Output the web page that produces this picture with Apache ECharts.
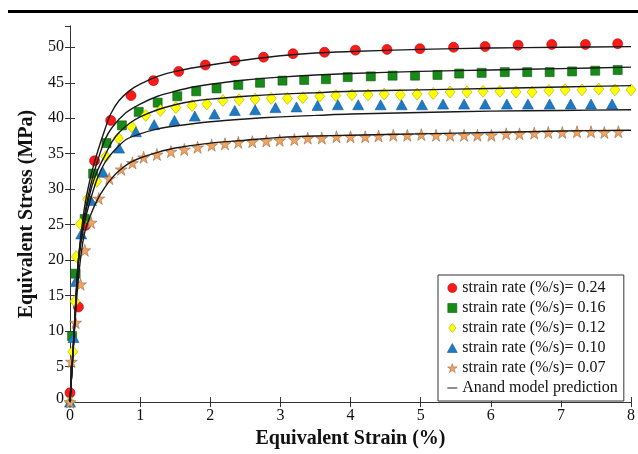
<!DOCTYPE html>
<html><head><meta charset="utf-8">
<script src="https://cdn.jsdelivr.net/npm/echarts@6/dist/echarts.min.js"></script>
<style>html,body{margin:0;padding:0;background:#fff}#c{width:638px;height:454px}</style>
</head><body><div id="c"></div>
<script>
// ---- data (strain %, stress MPa) ----
const seriesNames = ['strain rate (%/s)= 0.24','strain rate (%/s)= 0.16','strain rate (%/s)= 0.12','strain rate (%/s)= 0.10','strain rate (%/s)= 0.07'];
const modelName = 'Anand model prediction';
const xAxisTitle = 'Equivalent Strain (%)';
const yAxisTitle = 'Equivalent Stress (MPa)';

const exp024 = [[0,1.3],[0.12,13.4],[0.22,24.9],[0.35,34.0],[0.58,39.7],[0.87,43.2],[1.19,45.3],[1.55,46.6],[1.93,47.5],[2.35,48.1],[2.76,48.6],[3.18,49.1],[3.63,49.3],[4.07,49.6],[4.52,49.7],[4.99,49.8],[5.47,50.0],[5.92,50.1],[6.39,50.3],[6.87,50.4],[7.35,50.4],[7.81,50.5]];
const exp016 = [[0.03,9.3],[0.08,18.1],[0.21,25.8],[0.33,32.2],[0.52,36.5],[0.74,39.0],[0.98,40.9],[1.25,42.2],[1.53,43.1],[1.80,43.8],[2.09,44.2],[2.40,44.7],[2.71,45.0],[3.03,45.3],[3.34,45.4],[3.65,45.5],[3.96,45.8],[4.29,45.9],[4.60,46.0],[4.92,46.0],[5.24,46.1],[5.55,46.3],[5.87,46.4],[6.20,46.5],[6.52,46.5],[6.84,46.5],[7.16,46.6],[7.49,46.7],[7.81,46.8]];
const exp012 = [[0,0],[0.04,7.1],[0.07,14.2],[0.09,20.5],[0.15,25.1],[0.25,28.6],[0.38,31.1],[0.51,34.6],[0.69,37.2],[0.88,38.8],[1.08,40.4],[1.29,41.1],[1.51,41.5],[1.74,41.8],[1.95,42.0],[2.18,42.5],[2.41,42.6],[2.64,42.7],[2.87,42.8],[3.10,42.8],[3.32,42.9],[3.56,43.1],[3.79,43.2],[4.02,43.3],[4.25,43.3],[4.48,43.4],[4.71,43.3],[4.95,43.4],[5.18,43.5],[5.42,43.7],[5.66,43.7],[5.89,43.8],[6.13,43.8],[6.36,43.7],[6.59,43.7],[6.83,43.9],[7.06,44.0],[7.30,44.0],[7.54,44.1],[7.77,44.0],[8.0,44.0]];
const exp010 = [[0,0],[0.05,9.1],[0.08,17.0],[0.16,23.7],[0.30,28.4],[0.47,32.4],[0.70,35.8],[0.94,38.1],[1.20,39.1],[1.49,39.7],[1.78,40.3],[2.06,40.6],[2.35,41.1],[2.64,41.2],[2.93,41.5],[3.23,41.6],[3.53,41.8],[3.82,41.9],[4.11,41.9],[4.43,41.9],[4.73,41.9],[5.02,41.9],[5.32,42.0],[5.62,42.0],[5.92,42.0],[6.23,42.0],[6.53,42.0],[6.84,42.0],[7.14,42.0],[7.43,42.0],[7.73,42.0]];
const exp007 = [[0,0],[0.02,5.7],[0.08,11.2],[0.15,16.6],[0.21,21.4],[0.30,25.3],[0.41,28.7],[0.56,31.5],[0.73,32.8],[0.89,33.7],[1.05,34.5],[1.24,34.9],[1.44,35.3],[1.63,35.6],[1.82,35.9],[2.02,36.2],[2.21,36.4],[2.40,36.6],[2.60,36.7],[2.80,36.8],[2.99,36.9],[3.20,37.0],[3.39,37.2],[3.59,37.2],[3.80,37.4],[4.00,37.4],[4.21,37.4],[4.40,37.5],[4.61,37.6],[4.81,37.6],[5.01,37.7],[5.22,37.6],[5.42,37.6],[5.62,37.6],[5.81,37.6],[6.01,37.6],[6.22,37.8],[6.41,37.8],[6.62,37.9],[6.82,38.0],[7.02,38.0],[7.23,38.1],[7.43,38.1],[7.62,38.0],[7.82,38.1]];

const model024 = [[0,0],[0.06,10],[0.12,20],[0.2,27],[0.3,32],[0.4,35.5],[0.5,38.5],[0.58,40.6],[0.7,42.5],[0.85,43.9],[1.0,44.8],[1.25,45.9],[1.5,46.6],[2,47.5],[2.5,48.2],[3,48.8],[3.5,49.2],[4,49.4],[5,49.7],[6,49.9],[7,50.0],[8,50.1]];
const model016 = [[0,0],[0.06,10],[0.12,20],[0.2,26],[0.3,30.8],[0.4,34.2],[0.5,37.0],[0.6,38.7],[0.8,40.8],[1.0,42.0],[1.25,43.1],[1.5,43.8],[1.75,44.4],[2,44.8],[2.5,45.4],[3,45.8],[3.5,46.1],[4,46.3],[5,46.6],[6,46.8],[7,47.0],[8,47.2]];
const model012 = [[0,0],[0.06,10],[0.12,20],[0.2,25.5],[0.3,30.0],[0.4,32.8],[0.5,34.8],[0.6,36.7],[0.7,38.0],[0.85,39.3],[1.0,40.2],[1.25,41.2],[1.5,41.9],[1.75,42.4],[2,42.7],[2.5,43.1],[3,43.4],[3.5,43.6],[4,43.8],[5,44.0],[6,44.2],[7,44.4],[8,44.6]];
const model010 = [[0,0],[0.06,10],[0.12,19.5],[0.2,25],[0.3,28.8],[0.4,31.8],[0.5,33.8],[0.6,35.1],[0.8,37.0],[1.0,37.8],[1.25,38.5],[1.5,38.9],[2,39.5],[2.5,39.9],[3,40.2],[3.5,40.4],[4,40.6],[5,40.8],[6,41.0],[7,41.1],[8,41.2]];
const model007 = [[0,0],[0.06,9.5],[0.12,17.5],[0.2,23.5],[0.3,26.5],[0.4,28.7],[0.5,30.3],[0.6,31.6],[0.7,32.6],[0.85,33.7],[1.0,34.4],[1.25,35.2],[1.5,35.8],[2,36.5],[2.5,36.9],[3,37.3],[3.5,37.5],[4,37.6],[5,37.8],[6,38.0],[7,38.2],[8,38.3]];

const xMin = 0, xMax = 8, xStep = 1;
const yMin = 0, yMax = 53, yStep = 5;

// ---- styling ----
const FONT = 'Liberation Serif';
const STAR = 'path://M50,0 L61,35 L98,35 L68,57 L79,91 L50,70 L21,91 L32,57 L2,35 L39,35 Z';
const LINE_ICON = 'path://M0,0 L12,0 L12,1.3 L0,1.3 Z';
const expData = [exp024, exp016, exp012, exp010, exp007];
const modelData = [model024, model016, model012, model010, model007];
const markers = [
  {symbol:'circle', size:10, color:'#ff1a1a', border:'#b00000', icon:'circle'},
  {symbol:'rect', size:[9,9], color:'#178a17', border:'#0c5c0c', icon:'path://M0,0 L8,0 L8,8 L0,8 Z'},
  {symbol:'diamond', size:[10,12], color:'#ffff00', border:'#a8a800', icon:'path://M4,0 L8,5 L4,10 L0,5 Z'},
  {symbol:'triangle', size:[11,10], color:'#1f7ac6', border:'#165a95', icon:'path://M4.5,0 L9,8 L0,8 Z'},
  {symbol:STAR, size:[12,12], color:'#f2a35e', border:'#9a6a45', icon:STAR}
];

const series = [];
expData.forEach((d,i)=>{
  const m = markers[i];
  series.push({
    name: seriesNames[i], type:'scatter', data:d, symbol:m.symbol, symbolSize:m.size,
    itemStyle:{color:m.color, borderColor:m.border, borderWidth:0.6, opacity:1},
    z:2, clip:false, emphasis:{disabled:true}
  });
});
modelData.forEach((d)=>{
  series.push({
    name: modelName, type:'line', data:d, symbol:'none', smooth:0.3,
    lineStyle:{color:'#1a1a1a', width:1.4}, itemStyle:{color:'#1a1a1a'},
    z:3, animation:false, emphasis:{disabled:true}
  });
});

const axisLineStyle = {color:'#333', width:1};
const legendData = seriesNames.map((n,i)=>({name:n, icon:markers[i].icon,
    itemStyle:{color:markers[i].color, borderColor:markers[i].border, borderWidth:0.6}}))
  .concat([{name:modelName, icon:LINE_ICON, itemStyle:{color:'#333', borderWidth:0}}]);

const chart = echarts.init(document.getElementById('c'), null, {renderer:'canvas'});
chart.setOption({
  animation:false,
  backgroundColor:'#fff',
  grid:{left:70, right:4, top:26, bottom:47, containLabel:false},
  graphic:[{type:'rect', shape:{x:8, y:10, width:630, height:3}, style:{fill:'#000'}, silent:true}],
  xAxis:[
    {type:'value', min:xMin, max:xMax, interval:xStep, position:'bottom',
     name:xAxisTitle, nameLocation:'middle', nameGap:24,
     nameTextStyle:{fontFamily:FONT, fontSize:20, fontWeight:'bold', color:'#111'},
     axisLine:{show:true, lineStyle:axisLineStyle}, axisTick:{show:true, inside:true, length:5, lineStyle:axisLineStyle},
     axisLabel:{fontFamily:FONT, fontSize:16, color:'#111', margin:6}, splitLine:{show:false}},
    {type:'value', min:xMin, max:xMax, interval:xStep, position:'top',
     axisLine:{show:true, lineStyle:axisLineStyle}, axisTick:{show:true, inside:true, length:5, lineStyle:axisLineStyle},
     axisLabel:{show:false}, splitLine:{show:false}}
  ],
  yAxis:[
    {type:'value', min:yMin, max:yMax, interval:yStep, position:'left',
     name:yAxisTitle, nameLocation:'middle', nameGap:33,
     nameTextStyle:{fontFamily:FONT, fontSize:20, fontWeight:'bold', color:'#111'},
     axisLine:{show:true, lineStyle:axisLineStyle}, axisTick:{show:true, inside:true, length:5, lineStyle:axisLineStyle},
     axisLabel:{fontFamily:FONT, fontSize:16, color:'#111', margin:6, showMaxLabel:false,
       formatter:function(v){ if (Math.round(v)%yStep!==0) return ''; return v===0 ? '{z|0}' : String(v); },
       rich:{z:{fontFamily:FONT, fontSize:16, color:'#111', padding:[0,0,7,0]}}},
     splitLine:{show:false}},
    {type:'value', min:yMin, max:yMax, interval:yStep, position:'right',
     axisLine:{show:true, lineStyle:axisLineStyle}, axisTick:{show:true, inside:true, length:5, lineStyle:axisLineStyle},
     axisLabel:{show:false}, splitLine:{show:false}}
  ],
  legend:{
    show:true, orient:'vertical', left:438, top:275,
    padding:[5,6,5,9], itemGap:4, itemWidth:10, itemHeight:9, symbolKeepAspect:true,
    backgroundColor:'#fff', borderColor:'#333', borderWidth:1, borderRadius:0,
    textStyle:{fontFamily:FONT, fontSize:16, color:'#111', lineHeight:16},
    selectedMode:false,
    data: legendData
  },
  series: series
});
</script></body></html>
